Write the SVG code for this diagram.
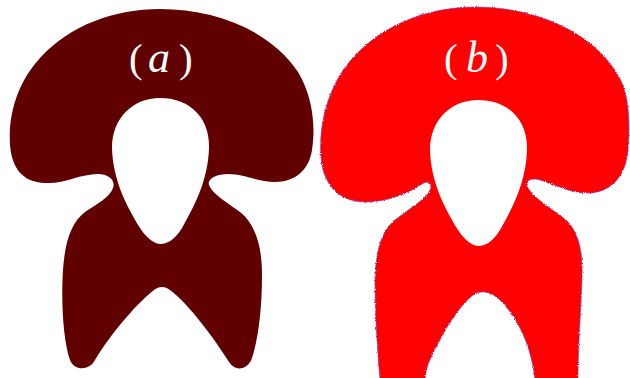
<svg xmlns="http://www.w3.org/2000/svg" width="630" height="378" viewBox="0 0 630 378">
<style>
.lbl{font-family:"Liberation Serif","DejaVu Serif",serif;font-size:41px;fill:#ffffff}
.it{font-style:italic;font-size:44px}
</style>
<defs>
<filter id="rough" x="-5%" y="-5%" width="110%" height="110%">
<feTurbulence type="fractalNoise" baseFrequency="0.9" numOctaves="1" seed="3" result="n"/>
<feDisplacementMap in="SourceGraphic" in2="n" scale="3" xChannelSelector="R" yChannelSelector="G"/>
</filter>
</defs>
<rect width="630" height="378" fill="#ffffff"/>
<g id="shape-a">
<path fill="#600000" fill-rule="evenodd" d="M160,9 C215,9 270,30 298,72 C312,95 316,125 312,150 C309,170 295,182 275,182 C258,182 245,174 228,174 C215,174 205,180 210,187 C214,195 228,203 240,212 C255,224 262,245 262,275 C262,310 258,340 252,358 C248,370 235,372 229,362 C215,340 190,305 170,290 C165,286 159,286 154,290 C135,305 110,335 95,360 C90,370 75,372 70,360 C63,340 61,300 63,270 C65,240 72,222 85,212 C97,204 110,197 113,188 C116,180 108,174 98,174 C80,174 65,184 45,183 C22,182 12,168 10,145 C8,110 20,80 40,58 C70,25 115,9 160,9 Z M160,98 C190,98 210,118 209,148 C208,180 195,205 182,228 C174,241 166,244 161,244 C155,244 148,240 140,228 C126,205 113,180 112,148 C112,118 133,98 160,98 Z"/>
<text class="lbl" y="72"><tspan x="129">(</tspan><tspan x="148" class="it">a</tspan><tspan x="179">)</tspan></text>
</g>
<g id="shape-b">
<path fill="#ff0000" stroke="#7040c0" stroke-width="0.6" fill-rule="evenodd" filter="url(#rough)" d="M475,7 C540,7 595,35 618,75 C630,95 630,125 628,150 C626,175 612,192 590,193 C570,194 555,184 540,180 C530,177 524,182 528,188 C535,200 555,210 568,222 C580,235 583,255 582,280 C581,310 578,345 578,380 L535,380 C532,350 520,320 500,300 C490,291 483,291 476,293 C465,300 450,320 440,340 C432,355 426,365 425,380 L380,380 C377,345 375,310 375,285 C375,255 380,232 395,220 C410,208 425,200 430,190 C433,183 428,180 422,184 C410,192 390,202 365,202 C342,202 326,188 322,165 C318,140 322,105 340,75 C365,35 415,7 475,7 Z"/>
<path fill="#ffffff" d="M478,100 C508,100 528,120 527,150 C526,182 513,207 500,230 C492,243 484,246 479,246 C473,246 466,242 458,230 C444,207 431,182 430,150 C430,120 451,100 478,100 Z"/>
<text class="lbl" y="72"><tspan x="444">(</tspan><tspan x="466" class="it">b</tspan><tspan x="495">)</tspan></text>
</g>
</svg>
